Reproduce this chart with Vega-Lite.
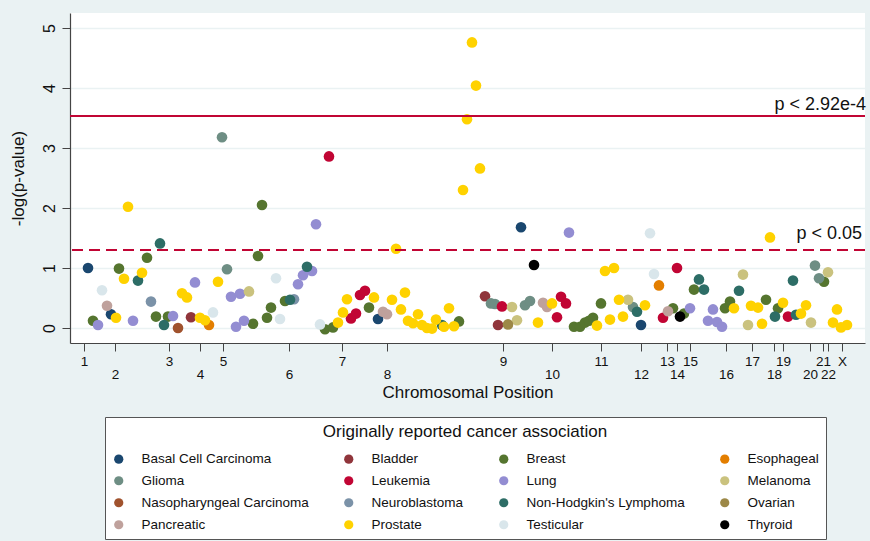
{
  "$schema": "https://vega.github.io/schema/vega-lite/v6.json",
  "width": 795,
  "height": 330,
  "autosize": {"type": "none"},
  "padding": {"left": 70, "top": 13, "right": 5, "bottom": 198},
  "background": "#eaf2f3",
  "config": {"view": {"fill": "white", "stroke": null}, "font": "Liberation Sans"},
  "resolve": {"axis": {"x": "independent"}},
  "datasets": {
    "points": [
      {"cancer": "Basal Cell Carcinoma", "pos": 18, "logp": 1.00},
      {"cancer": "Basal Cell Carcinoma", "pos": 41, "logp": 0.23},
      {"cancer": "Basal Cell Carcinoma", "pos": 308, "logp": 0.15},
      {"cancer": "Basal Cell Carcinoma", "pos": 451, "logp": 1.68},
      {"cancer": "Basal Cell Carcinoma", "pos": 571, "logp": 0.05},
      {"cancer": "Bladder", "pos": 121, "logp": 0.18},
      {"cancer": "Bladder", "pos": 415, "logp": 0.53},
      {"cancer": "Bladder", "pos": 428, "logp": 0.05},
      {"cancer": "Breast", "pos": 23, "logp": 0.12},
      {"cancer": "Breast", "pos": 49, "logp": 0.99},
      {"cancer": "Breast", "pos": 77, "logp": 1.17},
      {"cancer": "Breast", "pos": 86, "logp": 0.19},
      {"cancer": "Breast", "pos": 98, "logp": 0.19},
      {"cancer": "Breast", "pos": 183, "logp": 0.07},
      {"cancer": "Breast", "pos": 188, "logp": 1.20},
      {"cancer": "Breast", "pos": 192, "logp": 2.05},
      {"cancer": "Breast", "pos": 197, "logp": 0.17},
      {"cancer": "Breast", "pos": 201, "logp": 0.34},
      {"cancer": "Breast", "pos": 215, "logp": 0.45},
      {"cancer": "Breast", "pos": 255, "logp": -0.02},
      {"cancer": "Breast", "pos": 263, "logp": 0.01},
      {"cancer": "Breast", "pos": 299, "logp": 0.34},
      {"cancer": "Breast", "pos": 389, "logp": 0.11},
      {"cancer": "Breast", "pos": 504, "logp": 0.02},
      {"cancer": "Breast", "pos": 510, "logp": 0.02},
      {"cancer": "Breast", "pos": 515, "logp": 0.09},
      {"cancer": "Breast", "pos": 519, "logp": 0.12},
      {"cancer": "Breast", "pos": 523, "logp": 0.17},
      {"cancer": "Breast", "pos": 531, "logp": 0.41},
      {"cancer": "Breast", "pos": 603, "logp": 0.33},
      {"cancer": "Breast", "pos": 614, "logp": 0.24},
      {"cancer": "Breast", "pos": 624, "logp": 0.64},
      {"cancer": "Breast", "pos": 655, "logp": 0.33},
      {"cancer": "Breast", "pos": 660, "logp": 0.44},
      {"cancer": "Breast", "pos": 696, "logp": 0.47},
      {"cancer": "Breast", "pos": 708, "logp": 0.33},
      {"cancer": "Breast", "pos": 754, "logp": 0.77},
      {"cancer": "Esophageal", "pos": 139, "logp": 0.05},
      {"cancer": "Esophageal", "pos": 589, "logp": 0.71},
      {"cancer": "Glioma", "pos": 152, "logp": 3.18},
      {"cancer": "Glioma", "pos": 157, "logp": 0.98},
      {"cancer": "Glioma", "pos": 421, "logp": 0.41},
      {"cancer": "Glioma", "pos": 425, "logp": 0.40},
      {"cancer": "Glioma", "pos": 455, "logp": 0.38},
      {"cancer": "Glioma", "pos": 460, "logp": 0.45},
      {"cancer": "Glioma", "pos": 563, "logp": 0.35},
      {"cancer": "Glioma", "pos": 745, "logp": 1.04},
      {"cancer": "Glioma", "pos": 749, "logp": 0.83},
      {"cancer": "Leukemia", "pos": 259, "logp": 2.86},
      {"cancer": "Leukemia", "pos": 281, "logp": 0.16},
      {"cancer": "Leukemia", "pos": 286, "logp": 0.24},
      {"cancer": "Leukemia", "pos": 290, "logp": 0.55},
      {"cancer": "Leukemia", "pos": 295, "logp": 0.62},
      {"cancer": "Leukemia", "pos": 432, "logp": 0.36},
      {"cancer": "Leukemia", "pos": 487, "logp": 0.18},
      {"cancer": "Leukemia", "pos": 491, "logp": 0.52},
      {"cancer": "Leukemia", "pos": 496, "logp": 0.41},
      {"cancer": "Leukemia", "pos": 593, "logp": 0.17},
      {"cancer": "Leukemia", "pos": 607, "logp": 1.00},
      {"cancer": "Leukemia", "pos": 718, "logp": 0.19},
      {"cancer": "Lung", "pos": 28, "logp": 0.05},
      {"cancer": "Lung", "pos": 63, "logp": 0.12},
      {"cancer": "Lung", "pos": 103, "logp": 0.20},
      {"cancer": "Lung", "pos": 125, "logp": 0.76},
      {"cancer": "Lung", "pos": 161, "logp": 0.52},
      {"cancer": "Lung", "pos": 166, "logp": 0.02},
      {"cancer": "Lung", "pos": 170, "logp": 0.57},
      {"cancer": "Lung", "pos": 174, "logp": 0.12},
      {"cancer": "Lung", "pos": 228, "logp": 0.73},
      {"cancer": "Lung", "pos": 233, "logp": 0.88},
      {"cancer": "Lung", "pos": 242, "logp": 0.95},
      {"cancer": "Lung", "pos": 246, "logp": 1.73},
      {"cancer": "Lung", "pos": 499, "logp": 1.59},
      {"cancer": "Lung", "pos": 620, "logp": 0.33},
      {"cancer": "Lung", "pos": 638, "logp": 0.12},
      {"cancer": "Lung", "pos": 643, "logp": 0.31},
      {"cancer": "Lung", "pos": 647, "logp": 0.10},
      {"cancer": "Lung", "pos": 652, "logp": 0.02},
      {"cancer": "Melanoma", "pos": 179, "logp": 0.61},
      {"cancer": "Melanoma", "pos": 442, "logp": 0.35},
      {"cancer": "Melanoma", "pos": 447, "logp": 0.13},
      {"cancer": "Melanoma", "pos": 558, "logp": 0.47},
      {"cancer": "Melanoma", "pos": 673, "logp": 0.89},
      {"cancer": "Melanoma", "pos": 678, "logp": 0.05},
      {"cancer": "Melanoma", "pos": 741, "logp": 0.09},
      {"cancer": "Melanoma", "pos": 758, "logp": 0.93},
      {"cancer": "Nasopharyngeal Carcinoma", "pos": 108, "logp": 0.00},
      {"cancer": "Neuroblastoma", "pos": 81, "logp": 0.44},
      {"cancer": "Neuroblastoma", "pos": 224, "logp": 0.48},
      {"cancer": "Non-Hodgkin's Lymphoma", "pos": 68, "logp": 0.79},
      {"cancer": "Non-Hodgkin's Lymphoma", "pos": 90, "logp": 1.41},
      {"cancer": "Non-Hodgkin's Lymphoma", "pos": 94, "logp": 0.05},
      {"cancer": "Non-Hodgkin's Lymphoma", "pos": 220, "logp": 0.47},
      {"cancer": "Non-Hodgkin's Lymphoma", "pos": 237, "logp": 1.02},
      {"cancer": "Non-Hodgkin's Lymphoma", "pos": 372, "logp": 0.05},
      {"cancer": "Non-Hodgkin's Lymphoma", "pos": 567, "logp": 0.27},
      {"cancer": "Non-Hodgkin's Lymphoma", "pos": 629, "logp": 0.81},
      {"cancer": "Non-Hodgkin's Lymphoma", "pos": 634, "logp": 0.64},
      {"cancer": "Non-Hodgkin's Lymphoma", "pos": 669, "logp": 0.62},
      {"cancer": "Non-Hodgkin's Lymphoma", "pos": 705, "logp": 0.19},
      {"cancer": "Non-Hodgkin's Lymphoma", "pos": 723, "logp": 0.79},
      {"cancer": "Non-Hodgkin's Lymphoma", "pos": 726, "logp": 0.22},
      {"cancer": "Ovarian", "pos": 438, "logp": 0.06},
      {"cancer": "Pancreatic", "pos": 37, "logp": 0.37},
      {"cancer": "Pancreatic", "pos": 313, "logp": 0.27},
      {"cancer": "Pancreatic", "pos": 317, "logp": 0.23},
      {"cancer": "Pancreatic", "pos": 473, "logp": 0.42},
      {"cancer": "Pancreatic", "pos": 477, "logp": 0.35},
      {"cancer": "Pancreatic", "pos": 598, "logp": 0.28},
      {"cancer": "Prostate", "pos": 46, "logp": 0.17},
      {"cancer": "Prostate", "pos": 54, "logp": 0.82},
      {"cancer": "Prostate", "pos": 58, "logp": 2.02},
      {"cancer": "Prostate", "pos": 72, "logp": 0.92},
      {"cancer": "Prostate", "pos": 112, "logp": 0.58},
      {"cancer": "Prostate", "pos": 117, "logp": 0.51},
      {"cancer": "Prostate", "pos": 130, "logp": 0.17},
      {"cancer": "Prostate", "pos": 135, "logp": 0.13},
      {"cancer": "Prostate", "pos": 148, "logp": 0.77},
      {"cancer": "Prostate", "pos": 268, "logp": 0.09},
      {"cancer": "Prostate", "pos": 273, "logp": 0.26},
      {"cancer": "Prostate", "pos": 277, "logp": 0.48},
      {"cancer": "Prostate", "pos": 304, "logp": 0.51},
      {"cancer": "Prostate", "pos": 322, "logp": 0.47},
      {"cancer": "Prostate", "pos": 326, "logp": 1.32},
      {"cancer": "Prostate", "pos": 331, "logp": 0.31},
      {"cancer": "Prostate", "pos": 335, "logp": 0.59},
      {"cancer": "Prostate", "pos": 338, "logp": 0.12},
      {"cancer": "Prostate", "pos": 343, "logp": 0.08},
      {"cancer": "Prostate", "pos": 348, "logp": 0.23},
      {"cancer": "Prostate", "pos": 352, "logp": 0.05},
      {"cancer": "Prostate", "pos": 357, "logp": 0.00},
      {"cancer": "Prostate", "pos": 362, "logp": -0.01},
      {"cancer": "Prostate", "pos": 366, "logp": 0.14},
      {"cancer": "Prostate", "pos": 374, "logp": 0.02},
      {"cancer": "Prostate", "pos": 379, "logp": 0.33},
      {"cancer": "Prostate", "pos": 384, "logp": 0.03},
      {"cancer": "Prostate", "pos": 393, "logp": 2.30},
      {"cancer": "Prostate", "pos": 397, "logp": 3.48},
      {"cancer": "Prostate", "pos": 402, "logp": 4.76},
      {"cancer": "Prostate", "pos": 406, "logp": 4.04},
      {"cancer": "Prostate", "pos": 410, "logp": 2.66},
      {"cancer": "Prostate", "pos": 468, "logp": 0.09},
      {"cancer": "Prostate", "pos": 482, "logp": 0.41},
      {"cancer": "Prostate", "pos": 527, "logp": 0.04},
      {"cancer": "Prostate", "pos": 535, "logp": 0.95},
      {"cancer": "Prostate", "pos": 540, "logp": 0.14},
      {"cancer": "Prostate", "pos": 544, "logp": 1.00},
      {"cancer": "Prostate", "pos": 549, "logp": 0.47},
      {"cancer": "Prostate", "pos": 553, "logp": 0.19},
      {"cancer": "Prostate", "pos": 575, "logp": 0.38},
      {"cancer": "Prostate", "pos": 664, "logp": 0.33},
      {"cancer": "Prostate", "pos": 681, "logp": 0.37},
      {"cancer": "Prostate", "pos": 688, "logp": 0.34},
      {"cancer": "Prostate", "pos": 692, "logp": 0.07},
      {"cancer": "Prostate", "pos": 700, "logp": 1.51},
      {"cancer": "Prostate", "pos": 713, "logp": 0.42},
      {"cancer": "Prostate", "pos": 731, "logp": 0.24},
      {"cancer": "Prostate", "pos": 736, "logp": 0.38},
      {"cancer": "Prostate", "pos": 763, "logp": 0.09},
      {"cancer": "Prostate", "pos": 767, "logp": 0.31},
      {"cancer": "Prostate", "pos": 771, "logp": 0.01},
      {"cancer": "Prostate", "pos": 777, "logp": 0.05},
      {"cancer": "Testicular", "pos": 32, "logp": 0.63},
      {"cancer": "Testicular", "pos": 143, "logp": 0.26},
      {"cancer": "Testicular", "pos": 206, "logp": 0.83},
      {"cancer": "Testicular", "pos": 210, "logp": 0.15},
      {"cancer": "Testicular", "pos": 250, "logp": 0.06},
      {"cancer": "Testicular", "pos": 580, "logp": 1.58},
      {"cancer": "Testicular", "pos": 584, "logp": 0.90},
      {"cancer": "Thyroid", "pos": 464, "logp": 1.05},
      {"cancer": "Thyroid", "pos": 610, "logp": 0.19}
    ],
    "thresholds": [
      {"threshold": 3.535, "label": "p < 2.92e-4", "kind": "strict"},
      {"threshold": 1.301, "label": "p < 0.05", "kind": "nominal"}
    ]
  },
  "layer": [
    {
      "data": {"name": "points"},
      "mark": {"type": "point", "filled": true, "shape": "circle", "size": 113, "opacity": 1},
      "encoding": {
        "x": {
          "field": "pos", "type": "quantitative",
          "scale": {"domain": [0, 795], "nice": false, "zero": false},
          "axis": {
            "orient": "bottom",
            "title": null,
            "values": [14,99,153,272,433,531,597,620,682,713,753,772],
            "labelExpr": "['1','3','5','7','9','11','13','15','17','19','21','X'][indexof([14,99,153,272,433,531,597,620,682,713,753,772], datum.value)]",
            "grid": false,
            "labelOverlap": false,
            "labelFlush": false,
            "labelBound": false,
            "labelFontSize": 13.5,
            "labelColor": "#111",
            "labelPadding": 3,
            "tickSize": 8,
            "tickColor": "#444",
            "domainColor": "#444",
            "domainWidth": 1.2
          }
        },
        "y": {
          "field": "logp", "type": "quantitative",
          "scale": {"domain": [-0.25, 5.25], "nice": false, "zero": false},
          "axis": {
            "title": "-log(p-value)",
            "values": [0, 1, 2, 3, 4, 5],
            "format": "d",
            "grid": true,
            "gridColor": "#eaf2f3",
            "gridWidth": 1.5,
            "labelAngle": -90,
            "labelFontSize": 16,
            "labelColor": "#111",
            "labelPadding": 5,
            "tickSize": 8,
            "tickColor": "#444",
            "domainColor": "#444",
            "domainWidth": 1.2,
            "titleFontSize": 17,
            "titleFontWeight": "normal",
            "titleColor": "#111",
            "titlePadding": 14
          }
        },
        "color": {
          "field": "cancer", "type": "nominal",
          "scale": {
            "domain": ["Basal Cell Carcinoma", "Bladder", "Breast", "Esophageal", "Glioma", "Leukemia", "Lung", "Melanoma", "Nasopharyngeal Carcinoma", "Neuroblastoma", "Non-Hodgkin's Lymphoma", "Ovarian", "Pancreatic", "Prostate", "Testicular", "Thyroid"],
            "range": ["#1a476f", "#90353b", "#55752f", "#e37e00", "#6e8e84", "#c10534", "#938dd2", "#cac27e", "#a0522d", "#7b92a8", "#2d6d66", "#9c8847", "#bfa19c", "#ffd200", "#d9e6eb", "#000000"]
          },
          "legend": {
            "title": "Originally reported cancer association",
            "orient": "none",
            "direction": "horizontal",
            "legendX": 35,
            "legendY": 404,
            "columns": 4,
            "titleAnchor": "middle",
            "titleLimit": 700,
            "titleFontSize": 17,
            "titleFontWeight": "normal",
            "titleColor": "#111",
            "titlePadding": 11,
            "labelFontSize": 13.5,
            "labelColor": "#111",
            "labelLimit": 400,
            "labelOffset": 16,
            "symbolType": "circle",
            "symbolSize": 85,
            "symbolStrokeWidth": 0,
            "columnPadding": 33,
            "rowPadding": 7,
            "padding": 7,
            "fillColor": "white",
            "strokeColor": "#555"
          }
        }
      }
    },
    {
      "data": {"name": "thresholds"},
      "transform": [{"filter": "datum.kind == 'strict'"}],
      "mark": {"type": "rule", "color": "#c10534", "strokeWidth": 2},
      "encoding": {"y": {"field": "threshold", "type": "quantitative"}}
    },
    {
      "data": {"name": "thresholds"},
      "transform": [{"filter": "datum.kind == 'nominal'"}],
      "mark": {"type": "rule", "color": "#c10534", "strokeWidth": 2, "strokeDash": [11, 6]},
      "encoding": {"y": {"field": "threshold", "type": "quantitative"}}
    },
    {
      "data": {"name": "thresholds"},
      "transform": [{"filter": "datum.kind == 'strict'"}],
      "mark": {"type": "text", "align": "right", "baseline": "bottom", "dy": -2, "dx": 1, "fontSize": 18, "color": "#111"},
      "encoding": {
        "x": {
          "datum": 795, "type": "quantitative",
          "axis": {
            "orient": "bottom",
            "title": "Chromosomal Position",
            "values": [45,130,219,317,482,571,607,656,704,740,758],
            "labelExpr": "['2','4','6','8','10','12','14','16','18','20','22'][indexof([45,130,219,317,482,571,607,656,704,740,758], datum.value)]",
            "grid": false,
            "domain": false,
            "labelOverlap": false,
            "labelFlush": false,
            "labelBound": false,
            "labelFontSize": 13.5,
            "labelColor": "#111",
            "labelPadding": 16,
            "tickSize": 8,
            "tickColor": "#444",
            "titleFontSize": 17,
            "titleFontWeight": "normal",
            "titleColor": "#111",
            "titlePadding": 4
          }
        },
        "y": {"field": "threshold", "type": "quantitative"},
        "text": {"field": "label"}
      }
    },
    {
      "data": {"name": "thresholds"},
      "transform": [{"filter": "datum.kind == 'nominal'"}],
      "mark": {"type": "text", "align": "right", "baseline": "bottom", "dy": -7, "dx": -3, "fontSize": 18, "color": "#111"},
      "encoding": {
        "x": {"datum": 795, "type": "quantitative", "axis": null},
        "y": {"field": "threshold", "type": "quantitative"},
        "text": {"field": "label"}
      }
    }
  ]
}
